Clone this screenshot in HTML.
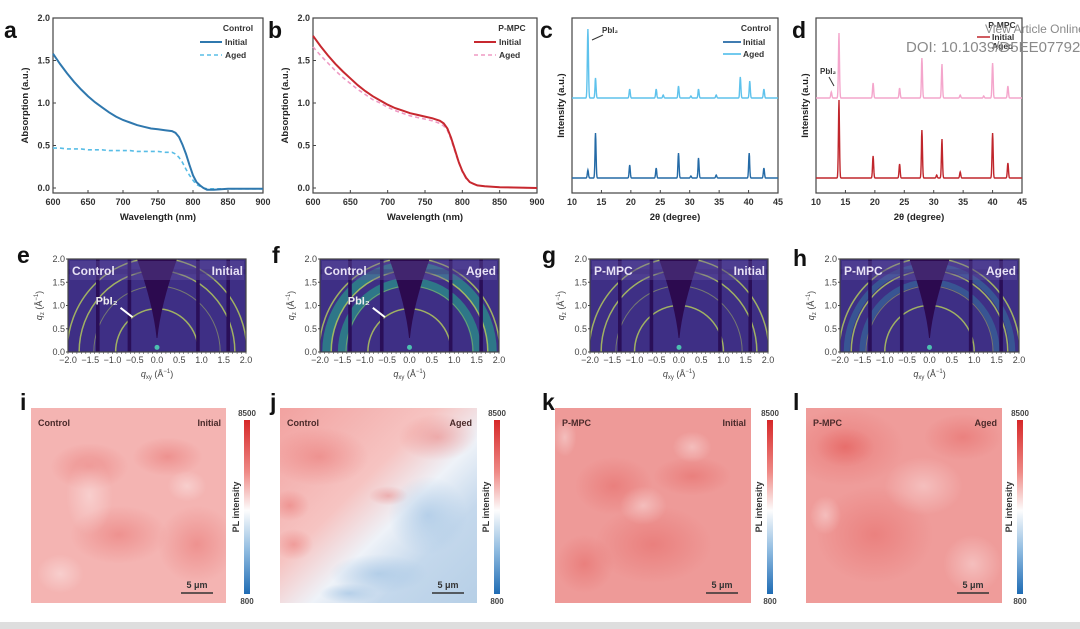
<!DOCTYPE html>
<html><head><meta charset="utf-8">
<style>
html,body{margin:0;padding:0;background:#fff;}
svg{display:block;font-family:"Liberation Sans",Arial,sans-serif;}
.tk{font-size:9px;font-weight:bold;fill:#333;}
.at{font-size:9.5px;font-weight:bold;fill:#222;}
.pl{font-size:23px;font-weight:bold;fill:#111;}
.lg{font-size:8.5px;font-weight:bold;fill:#333;}
</style></head>
<body>
<svg id="fig" width="1080" height="629" viewBox="0 0 1080 629">
<defs>
<linearGradient id="cbar" x1="0" y1="0" x2="0" y2="1">
<stop offset="0" stop-color="#d62728"/><stop offset="0.3" stop-color="#ef8a86"/><stop offset="0.52" stop-color="#fdfdfd"/><stop offset="0.75" stop-color="#8fbbe0"/><stop offset="1" stop-color="#1f6cb4"/></linearGradient>
<linearGradient id="jgrad" x1="0" y1="0" x2="1" y2="1">
<stop offset="0" stop-color="#f2a2a0"/><stop offset="0.4" stop-color="#f6c4c2"/><stop offset="0.58" stop-color="#eef2f8"/><stop offset="0.75" stop-color="#c4d8ec"/><stop offset="1" stop-color="#b6cfe6"/></linearGradient>
<radialGradient id="blobR"><stop offset="0" stop-color="#e0423f" stop-opacity="0.3"/><stop offset="1" stop-color="#e0423f" stop-opacity="0"/></radialGradient>
<radialGradient id="blobW"><stop offset="0" stop-color="#ffffff" stop-opacity="0.35"/><stop offset="1" stop-color="#ffffff" stop-opacity="0"/></radialGradient>
<radialGradient id="blobB"><stop offset="0" stop-color="#9cc0e2" stop-opacity="0.6"/><stop offset="1" stop-color="#9cc0e2" stop-opacity="0"/></radialGradient>
</defs>
<rect x="0" y="622" width="1080" height="7" fill="#dedede"/>
<g id="root"></g>
<text x="985" y="33" font-size="12" fill="#8a8a8a">View Article Online</text>
<text x="906" y="52" font-size="15" fill="#8a8a8a">DOI: 10.1039/D5EE07792</text>
</svg>
<script>
const NS="http://www.w3.org/2000/svg";
const root=document.getElementById('root');
function el(tag,attrs,parent,txt){const e=document.createElementNS(NS,tag);for(const k in attrs)e.setAttribute(k,attrs[k]);if(txt!==undefined)e.textContent=txt;(parent||root).appendChild(e);return e;}

// ---------- Data: absorption ----------
const absWl=[600,610,620,630,640,650,660,670,680,690,700,710,720,730,740,750,760,770,775,780,785,790,795,800,805,810,815,820,830,850,900];
const ctrlInitial=[1.58,1.46,1.35,1.25,1.16,1.08,1.01,0.95,0.89,0.84,0.80,0.77,0.74,0.72,0.70,0.69,0.68,0.67,0.65,0.60,0.51,0.40,0.27,0.15,0.07,0.03,0.0,-0.02,-0.02,-0.01,-0.01];
const ctrlAged=[0.47,0.47,0.46,0.46,0.46,0.45,0.45,0.45,0.44,0.44,0.44,0.44,0.43,0.43,0.43,0.43,0.42,0.42,0.40,0.36,0.30,0.22,0.15,0.09,0.04,0.02,0.0,-0.01,-0.01,-0.01,-0.01];
const pmpcInitial=[1.79,1.67,1.56,1.46,1.37,1.29,1.21,1.14,1.08,1.03,0.98,0.94,0.91,0.88,0.86,0.84,0.82,0.79,0.76,0.70,0.59,0.45,0.31,0.20,0.12,0.07,0.05,0.03,0.02,0.01,0.0];
const pmpcAged=[1.66,1.56,1.47,1.38,1.30,1.23,1.16,1.10,1.04,1.00,0.95,0.91,0.88,0.85,0.83,0.81,0.79,0.76,0.73,0.68,0.57,0.43,0.30,0.19,0.11,0.07,0.05,0.03,0.02,0.01,0.0];
const absXTicks=[600,650,700,750,800,850,900];
const absYTicks=[0.0,0.5,1.0,1.5,2.0];

// ---------- Data: XRD ----------
const xrdTicks=[10,15,20,25,30,35,40,45];
const ctrlInitPeaks=[12.7,14.0,19.8,24.3,28.1,30.2,31.5,34.5,40.1,42.6];
const ctrlInitHeights=[8,45,13,10,25,2,20,3,25,10];
const ctrlAgedPeaks=[12.7,14.0,19.8,24.3,25.5,28.1,30.2,31.5,34.5,38.6,40.2,42.6];
const ctrlAgedHeights=[69,20,9,9,3,12,2,9,3,21,17,9];
const pmpcInitPeaks=[13.9,19.7,24.2,28.0,30.5,31.4,34.5,40.0,42.6];
const pmpcInitHeights=[78,22,14,48,3,39,6,45,15];
const pmpcAgedPeaks=[12.6,13.9,19.7,24.2,28.0,31.4,34.5,38.5,40.0,42.6];
const pmpcAgedHeights=[6,65,15,10,40,34,3,2,35,12];

// ---------- Data: GIWAXS ----------
const qTicksX=[-2.0,-1.5,-1.0,-0.5,0.0,0.5,1.0,1.5,2.0];
const qTicksY=[0.0,0.5,1.0,1.5,2.0];
const ringQ=[1.0,1.42,1.75,2.02];
const stripeQ=[-1.33,-0.62,0.92,1.6];

function lin(d0,d1,r0,r1){return v=>r0+(v-d0)*(r1-r0)/(d1-d0);}

function frame(x0,y0,x1,y1,name){el('rect',{x:x0,y:y0,width:x1-x0,height:y1-y0,fill:'none',stroke:'#444','stroke-width':1.2,});}

// ---------- Absorption panels ----------
function absPanel(x0,x1,letter,lx,initArr,agedArr,cI,cA,title){
  const y0=18,y1=193;
  const sx=lin(600,900,x0,x1), sy=lin(0,2,188,y0);
  const t=el('text',{x:lx,y:38,class:'pl'},root,letter);
  
  frame(x0,y0,x1,y1,'plot-frame-'+letter);
  absXTicks.forEach(v=>{const x=sx(v);el('line',{x1:x,y1:y1,x2:x,y2:y1-3,stroke:'#444'});
    const tt=el('text',{x:x,y:y1+12,class:'tk','text-anchor':'middle'},root,v);});
  absYTicks.forEach(v=>{const y=sy(v);el('line',{x1:x0,y1:y,x2:x0+3,y2:y,stroke:'#444'});
    const tt=el('text',{x:x0-3,y:y+3,class:'tk','text-anchor':'end'},root,v.toFixed(1));});
  const xt=el('text',{x:(x0+x1)/2,y:220,class:'at','text-anchor':'middle'},root,'Wavelength (nm)');
  const yt=el('text',{x:0,y:0,class:'at','text-anchor':'middle',transform:`translate(${x0-25},${(y0+y1)/2}) rotate(-90)`},root,'Absorption (a.u.)');
  const mk=(arr)=>absWl.map((w,i)=>sx(w).toFixed(1)+','+sy(arr[i]).toFixed(1)).join(' ');
  const pa=el('polyline',{points:mk(agedArr),fill:'none',stroke:cA,'stroke-width':1.6,'stroke-dasharray':'4,3'});
  
  const pi=el('polyline',{points:mk(initArr),fill:'none',stroke:cI,'stroke-width':2});
  
  const lx0=x1-63;
  const lt=el('text',{x:x1-25,y:31,class:'lg','text-anchor':'middle'},root,title);
  el('line',{x1:lx0,y1:42,x2:lx0+22,y2:42,stroke:cI,'stroke-width':2});
  const l1=el('text',{x:lx0+25,y:45,class:'lg'},root,'Initial');
  el('line',{x1:lx0,y1:55,x2:lx0+22,y2:55,stroke:cA,'stroke-width':1.6,'stroke-dasharray':'4,3'});
  const l2=el('text',{x:lx0+25,y:58,class:'lg'},root,'Aged');
}
absPanel(53,263,'a',4,ctrlInitial,ctrlAged,'#2f78ae','#58bde6','Control');
absPanel(313,537,'b',268,pmpcInitial,pmpcAged,'#c7282f','#ef9ac4','P-MPC');

// ---------- XRD panels ----------
function xrdPanel(x0,x1,letter,lx,pI,hI,pA,hA,cI,cA,title,showLegend){
  const y0=18,y1=193;
  const sx=lin(10,45,x0,x1);
  const t=el('text',{x:lx,y:38,class:'pl'},root,letter);
  frame(x0,y0,x1,y1,'plot-frame-'+letter);
  xrdTicks.forEach(v=>{const x=sx(v);el('line',{x1:x,y1:y1,x2:x,y2:y1-3,stroke:'#444'});
    const tt=el('text',{x:x,y:y1+12,class:'tk','text-anchor':'middle'},root,v);});
  const xt=el('text',{x:(x0+x1)/2,y:220,class:'at','text-anchor':'middle'},root,'2θ (degree)');
  const yt=el('text',{x:0,y:0,class:'at','text-anchor':'middle',transform:`translate(${x0-8},${(y0+y1)/2}) rotate(-90)`},root,'Intensity (a.u.)');
  function trace(P,H,base,col,name){
    let pts=[];for(let a=10;a<=45;a+=0.05){let v=0;P.forEach((p,i)=>{v+=H[i]*Math.exp(-Math.pow((a-p)/0.13,2));});pts.push(sx(a).toFixed(1)+','+(base-v).toFixed(1));}
    const pl=el('polyline',{points:pts.join(' '),fill:'none',stroke:col,'stroke-width':1.4});
    
  }
  trace(pA,hA,98,cA,'aged-pattern');
  trace(pI,hI,178,cI,'initial-pattern');
  if(showLegend){
    const lt=el('text',{x:x1-22,y:31,class:'lg','text-anchor':'middle'},root,title);
    el('line',{x1:x1-55,y1:42,x2:x1-37,y2:42,stroke:cI,'stroke-width':1.8});
    const l1=el('text',{x:x1-35,y:45,class:'lg'},root,'Initial');
    el('line',{x1:x1-55,y1:54,x2:x1-37,y2:54,stroke:cA,'stroke-width':1.8});
    const l2=el('text',{x:x1-35,y:57,class:'lg'},root,'Aged');
  } else {
    const lt=el('text',{x:x1-20,y:28,class:'lg','text-anchor':'middle'},root,title);
    el('line',{x1:x1-45,y1:37,x2:x1-32,y2:37,stroke:cI,'stroke-width':1.5});
    const l1=el('text',{x:x1-30,y:40,class:'lg','font-size':'7'},root,'Initial');
    const l2=el('text',{x:x1-30,y:49,class:'lg','font-size':'7'},root,'Aged');
  }
}
xrdPanel(572,778,'c',540,ctrlInitPeaks,ctrlInitHeights,ctrlAgedPeaks,ctrlAgedHeights,'#246aa6','#5ec2ec','Control',true);
xrdPanel(816,1022,'d',792,pmpcInitPeaks,pmpcInitHeights,pmpcAgedPeaks,pmpcAgedHeights,'#c0262c','#f4a6cc','P-MPC',false);
let a1=el('text',{x:602,y:33,'font-size':'8','font-weight':'bold',fill:'#333'},root,'PbI₂');
el('line',{x1:603,y1:35,x2:592,y2:40,stroke:'#333','stroke-width':1});
let a2=el('text',{x:820,y:74,'font-size':'8','font-weight':'bold',fill:'#333'},root,'PbI₂');
el('line',{x1:829,y1:77,x2:834,y2:86,stroke:'#333','stroke-width':1});

// ---------- GIWAXS panels ----------
function giwaxs(x0,x1,letter,lx,ly,left,right,aged,pbi2){
  const y0=259,y1=352;
  const sx=lin(-2,2,x0,x1), sy=lin(0,2,y1,y0);
  const t=el('text',{x:lx,y:ly,class:'pl'},root,letter);
  const cid='clip'+letter;const cp=el('clipPath',{id:cid});el('rect',{x:x0,y:y0,width:x1-x0,height:y1-y0},cp);
  const g=el('g',{'clip-path':`url(#${cid})`});
  
  el('rect',{x:x0,y:y0,width:x1-x0,height:y1-y0,fill:'#3e2f85'},g);
  const cx=sx(0),cy=sy(0),rx=(x1-x0)/4,ry=(y1-y0)/2;
  if(aged){
    [1.5,1.85].forEach(q=>el('ellipse',{cx:cx,cy:cy,rx:q*rx,ry:q*ry,fill:'none',stroke:aged==='f'?'#25a98a':'#2f8fa8','stroke-width':aged==='f'?9:6,'stroke-opacity':aged==='f'?0.6:0.4},g));
  }
  ringQ.forEach((q,i)=>{
    const r=(pbi2&&i===0)?0.93:q;
    const e=el('ellipse',{cx:cx,cy:cy,rx:r*rx,ry:r*ry,fill:'none',stroke:'#b9d25a','stroke-width':i===1?1:1.5,'stroke-opacity':i===1?0.45:0.8},g);
    
  });
  el('rect',{x:x0,y:sy(1.78),width:x1-x0,height:5,fill:'#2a1860','opacity':0.35},g);
  stripeQ.forEach(q=>{const s=el('rect',{x:sx(q)-1.8,y:y0,width:3.6,height:y1-y0,fill:'#2a0f58'},g);});
  el('path',{d:`M${sx(-0.45)},${y0} L${sx(0.45)},${y0} Q${sx(0.08)},${sy(1.0)} ${sx(0.01)},${sy(0.3)} L${sx(-0.01)},${sy(0.3)} Q${sx(-0.08)},${sy(1.0)} ${sx(-0.45)},${y0}Z`,fill:'#2c0a4f'},g);
  el('circle',{cx:cx,cy:sy(0.1),r:2.5,fill:'#4cc0b0'},g);
  frame(x0,y0,x1,y1,'giwaxs-frame-'+letter);
  for(let q=-2;q<=2.001;q+=0.1){el('line',{x1:sx(q),y1:y1,x2:sx(q),y2:y1+2,stroke:'#444','stroke-width':0.6});}
  qTicksX.forEach(v=>{const tt=el('text',{x:sx(v),y:y1+11,'font-size':'9',fill:'#444','text-anchor':'middle'},root,v.toFixed(1).replace('-','−'));});
  qTicksY.forEach(v=>{el('line',{x1:x0-2,y1:sy(v),x2:x0,y2:sy(v),stroke:'#444'});const tt=el('text',{x:x0-3,y:sy(v)+3,'font-size':'9',fill:'#444','text-anchor':'end'},root,v.toFixed(1));});
  const xt=el('text',{x:(x0+x1)/2,y:y1+25,'font-size':'9',fill:'#444','text-anchor':'middle'},root);xt.innerHTML='<tspan font-style="italic">q</tspan><tspan font-size="6" dy="2">xy</tspan><tspan dy="-2"> (Å</tspan><tspan font-size="6" dy="-4">−1</tspan><tspan dy="4">)</tspan>';
  
  const yt=el('text',{'font-size':'9',fill:'#444','text-anchor':'middle',transform:`translate(${x0-26},${(y0+y1)/2}) rotate(-90)`},root);yt.innerHTML='<tspan font-style="italic">q</tspan><tspan font-size="6" dy="2">z</tspan><tspan dy="-2"> (Å</tspan><tspan font-size="6" dy="-4">−1</tspan><tspan dy="4">)</tspan>';
  
  el('rect',{x:x0+2,y:y0+2,width:x1-x0-4,height:19,fill:'#6a5aa8',opacity:0.35});
  const tl=el('text',{x:x0+4,y:y0+16,'font-size':'12','font-weight':'bold',fill:'#e8e2f6'},root,left);
  const tr=el('text',{x:x1-3,y:y0+16,'font-size':'12','font-weight':'bold',fill:'#e8e2f6','text-anchor':'end'},root,right);
  if(pbi2){const p=el('text',{x:sx(-1.38),y:sy(1.02),'font-size':'11','font-weight':'bold',fill:'#eee'},root,'PbI₂');
    el('line',{x1:sx(-0.82),y1:sy(0.95),x2:sx(-0.55),y2:sy(0.75),stroke:'#fff','stroke-width':2});}
}
giwaxs(68,246,'e',17,263,'Control','Initial',null,true);
giwaxs(320,499,'f',272,263,'Control','Aged','f',true);
giwaxs(590,768,'g',542,263,'P-MPC','Initial',null,false);
giwaxs(840,1019,'h',793,266,'P-MPC','Aged','h',false);

// ---------- PL maps ----------
function plMap(x0,x1,cbx,letter,lx,left,right,base,blobs){
  const y0=408,y1=603;
  const t=el('text',{x:lx,y:410,class:'pl'},root,letter);
  const cid='clp'+letter;const cp=el('clipPath',{id:cid});el('rect',{x:x0,y:y0,width:x1-x0,height:y1-y0},cp);
  const g=el('g',{'clip-path':`url(#${cid})`});
  el('rect',{x:x0,y:y0,width:x1-x0,height:y1-y0,fill:base},g);
  const w=x1-x0,h=y1-y0;
  blobs.forEach(b=>el('ellipse',{cx:x0+b[0]*w,cy:y0+b[1]*h,rx:b[2]*w,ry:b[3]*h,fill:`url(#${b[4]})`},g));
  const l=el('text',{x:x0+7,y:y0+18,'font-size':'9','font-weight':'bold',fill:'#4a2a2a'},root,left);
  const r=el('text',{x:x1-5,y:y0+18,'font-size':'9','font-weight':'bold',fill:'#4a2a2a','text-anchor':'end'},root,right);
  el('line',{x1:x1-45,y1:y1-10,x2:x1-13,y2:y1-10,stroke:'#333','stroke-width':1.5});
  const sb=el('text',{x:x1-29,y:y1-15,'font-size':'9','font-weight':'bold',fill:'#333','text-anchor':'middle'},root,'5 μm');
  const cb=el('rect',{x:cbx,y:420,width:6,height:174,fill:'url(#cbar)'});
  const c1=el('text',{x:cbx+3,y:416,'font-size':'8','font-weight':'bold',fill:'#444','text-anchor':'middle'},root,'8500');
  const c2=el('text',{x:cbx+3,y:604,'font-size':'8','font-weight':'bold',fill:'#444','text-anchor':'middle'},root,'800');
  const ct=el('text',{'font-size':'9','font-weight':'bold',fill:'#333','text-anchor':'middle',transform:`translate(${cbx-5},${507}) rotate(-90)`},root,'PL intensity');
}
plMap(31,226,244,'i',20,'Control','Initial','#f4b4b2',[[0.3,0.3,0.2,0.12,'blobR'],[0.7,0.25,0.18,0.1,'blobR'],[0.85,0.7,0.2,0.2,'blobR'],[0.45,0.65,0.25,0.15,'blobR'],[0.3,0.45,0.12,0.2,'blobW'],[0.8,0.4,0.1,0.08,'blobW'],[0.15,0.85,0.12,0.1,'blobW']]);
plMap(280,477,494,'j',270,'Control','Aged','url(#jgrad)',[[0.05,0.5,0.1,0.08,'blobR'],[0.07,0.7,0.1,0.08,'blobR'],[0.2,0.25,0.25,0.15,'blobR'],[0.55,0.45,0.1,0.05,'blobR'],[0.8,0.15,0.2,0.12,'blobR'],[0.5,0.85,0.25,0.1,'blobB'],[0.75,0.55,0.2,0.2,'blobB'],[0.35,0.95,0.15,0.05,'blobB']]);
plMap(555,751,767,'k',542,'P-MPC','Initial','#ee9a98',[[0.3,0.4,0.2,0.15,'blobR'],[0.7,0.35,0.2,0.1,'blobR'],[0.5,0.7,0.3,0.2,'blobR'],[0.15,0.8,0.15,0.15,'blobR'],[0.7,0.2,0.1,0.08,'blobW'],[0.45,0.5,0.12,0.1,'blobW'],[0.05,0.15,0.06,0.1,'blobW']]);
plMap(806,1002,1017,'l',793,'P-MPC','Aged','#ef9c9a',[[0.2,0.2,0.3,0.2,'blobR'],[0.2,0.2,0.15,0.1,'blobR'],[0.35,0.65,0.3,0.25,'blobR'],[0.8,0.15,0.2,0.12,'blobR'],[0.6,0.4,0.2,0.15,'blobW'],[0.85,0.8,0.15,0.15,'blobW'],[0.1,0.55,0.08,0.1,'blobW']]);
</script>
</body></html>
